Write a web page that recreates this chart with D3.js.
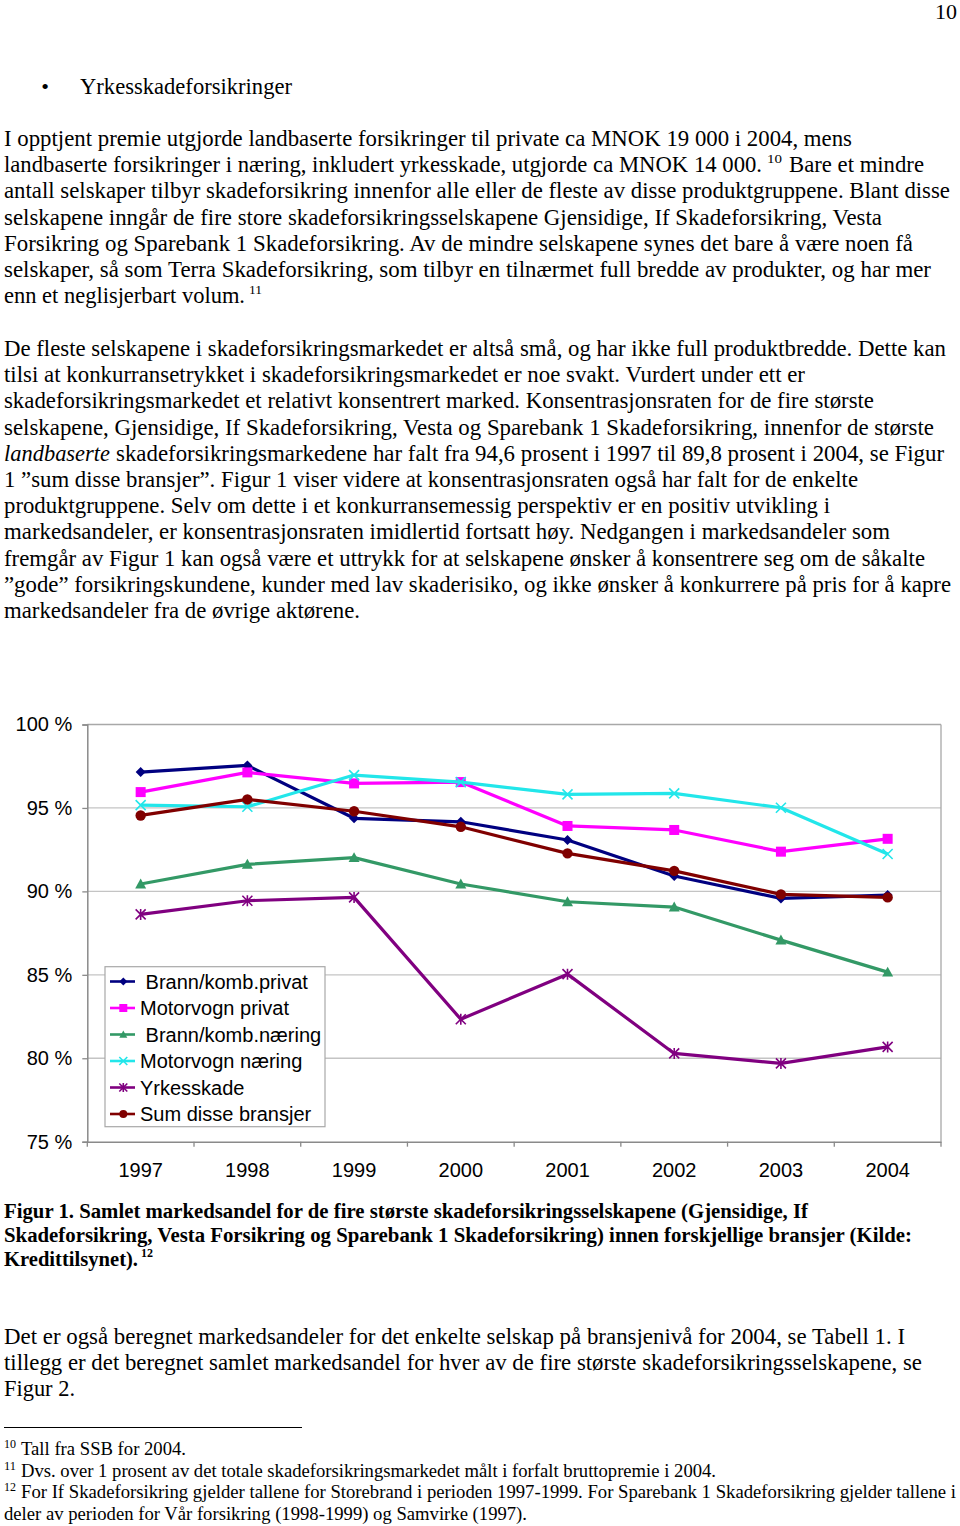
<!DOCTYPE html>
<html>
<head>
<meta charset="utf-8">
<script src="https://cdn.jsdelivr.net/npm/d3@7/dist/d3.min.js"></script>
<style>
  html, body { margin: 0; padding: 0; background: #fff; }
  svg { display: block; }
</style>
</head>
<body>
<script>
// ---------------- chart data ----------------
const years = ["1997", "1998", "1999", "2000", "2001", "2002", "2003", "2004"];
const seriesNames = ["Brann/komb.privat", "Motorvogn privat", "Brann/komb.næring", "Motorvogn næring", "Yrkesskade", "Sum disse bransjer"];
const brannPrivat  = [97.15, 97.55, 94.38, 94.17, 93.08, 90.92, 89.58, 89.78];
const motorPrivat  = [95.95, 97.13, 96.47, 96.55, 93.92, 93.68, 92.38, 93.15];
const brannNaering = [90.44, 91.62, 92.02, 90.44, 89.38, 89.06, 87.08, 85.16];
const motorNaering = [95.17, 95.07, 96.97, 96.55, 95.81, 95.87, 95.01, 92.24];
const yrkesskade   = [88.62, 89.44, 89.64, 82.34, 85.04, 80.29, 79.69, 80.68];
const sumBransjer  = [94.55, 95.51, 94.80, 93.87, 92.28, 91.23, 89.82, 89.64];
const yTicks = [75, 80, 85, 90, 95, 100];
const yTickLabels = ["75 %", "80 %", "85 %", "90 %", "95 %", "100 %"];

// ---------------- page text ----------------
const pageNumber = "10";
const bulletText = "Yrkesskadeforsikringer";
const para1 = [
  "I opptjent premie utgjorde landbaserte forsikringer til private ca MNOK 19 000 i 2004, mens",
  "landbaserte forsikringer i næring, inkludert yrkesskade, utgjorde ca MNOK 14 000.",
  "Bare et mindre",
  "antall selskaper tilbyr skadeforsikring innenfor alle eller de fleste av disse produktgruppene. Blant disse",
  "selskapene inngår de fire store skadeforsikringsselskapene Gjensidige, If Skadeforsikring, Vesta",
  "Forsikring og Sparebank 1 Skadeforsikring. Av de mindre selskapene synes det bare å være noen få",
  "selskaper, så som Terra Skadeforsikring, som tilbyr en tilnærmet full bredde av produkter, og har mer",
  "enn et neglisjerbart volum."
];
const para2 = [
  "De fleste selskapene i skadeforsikringsmarkedet er altså små, og har ikke full produktbredde. Dette kan",
  "tilsi at konkurransetrykket i skadeforsikringsmarkedet er noe svakt. Vurdert under ett er",
  "skadeforsikringsmarkedet et relativt konsentrert marked. Konsentrasjonsraten for de fire største",
  "selskapene, Gjensidige, If Skadeforsikring, Vesta og Sparebank 1 Skadeforsikring, innenfor de største",
  "landbaserte",
  "skadeforsikringsmarkedene har falt fra 94,6 prosent i 1997 til 89,8 prosent i 2004, se Figur",
  "1 ”sum disse bransjer”. Figur 1 viser videre at konsentrasjonsraten også har falt for de enkelte",
  "produktgruppene. Selv om dette i et konkurransemessig perspektiv er en positiv utvikling i",
  "markedsandeler, er konsentrasjonsraten imidlertid fortsatt høy. Nedgangen i markedsandeler som",
  "fremgår av Figur 1 kan også være et uttrykk for at selskapene ønsker å konsentrere seg om de såkalte",
  "”gode” forsikringskundene, kunder med lav skaderisiko, og ikke ønsker å konkurrere på pris for å kapre",
  "markedsandeler fra de øvrige aktørene."
];
const caption = [
  "Figur 1. Samlet markedsandel for de fire største skadeforsikringsselskapene (Gjensidige, If",
  "Skadeforsikring, Vesta Forsikring og Sparebank 1 Skadeforsikring) innen forskjellige bransjer (Kilde:",
  "Kredittilsynet)."
];
const para3 = [
  "Det er også beregnet markedsandeler for det enkelte selskap på bransjenivå for 2004, se Tabell 1. I",
  "tillegg er det beregnet samlet markedsandel for hver av de fire største skadeforsikringsselskapene, se",
  "Figur 2."
];
const footnoteNums = ["10", "11", "12"];
const footnotes = [
  "Tall fra SSB for 2004.",
  "Dvs. over 1 prosent av det totale skadeforsikringsmarkedet målt i forfalt bruttopremie i 2004.",
  "For If Skadeforsikring gjelder tallene for Storebrand i perioden 1997-1999. For Sparebank 1 Skadeforsikring gjelder tallene i",
  "deler av perioden for Vår forsikring (1998-1999) og Samvirke (1997)."
];

// ---------------- rendering ----------------
const W = 960, H = 1526;
const svg = d3.select("body").append("svg").attr("width", W).attr("height", H);
const serif = "'Liberation Serif','Times New Roman',Times,serif";
const sans = "'Liberation Sans',Arial,Helvetica,sans-serif";

function txt(x, y, s, o = {}) {
  const t = svg.append("text").attr("x", x).attr("y", y).text(s)
    .attr("font-family", o.family || serif)
    .attr("font-size", o.size || 22.3)
    .attr("fill", "#000");
  if (o.weight) t.attr("font-weight", o.weight);
  if (o.italic) t.attr("font-style", "italic");
  if (o.anchor) t.attr("text-anchor", o.anchor);
  if (o.end) t.attr("textLength", o.end - x).attr("lengthAdjust", "spacingAndGlyphs");
  return t;
}

// page number + bullet
txt(957, 19, pageNumber, {anchor: "end", size: 22});
txt(45, 94, "•", {anchor: "middle", size: 22});
txt(80, 94, bulletText, {end: 292});

// paragraph 1
const lh = 26.2;
const p1y = 146;
txt(4, p1y, para1[0], {end: 852});
txt(4, p1y + lh, para1[1], {end: 762});
txt(767, p1y + lh - 9, footnoteNums[0], {size: 13, end: 782});
txt(789, p1y + lh, para1[2], {end: 924});
txt(4, p1y + 2 * lh, para1[3], {end: 950});
txt(4, p1y + 3 * lh, para1[4], {end: 882});
txt(4, p1y + 4 * lh, para1[5], {end: 913});
txt(4, p1y + 5 * lh, para1[6], {end: 931});
txt(4, p1y + 6 * lh, para1[7], {end: 245});
txt(249, p1y + 6 * lh - 9, footnoteNums[1], {size: 13, end: 262});

// paragraph 2
const p2y = 356;
const p2ends = [946, 805, 874, 934];
for (let i = 0; i < 4; i++) txt(4, p2y + i * lh, para2[i], {end: p2ends[i]});
txt(4, p2y + 4 * lh, para2[4], {italic: true, end: 110});
txt(116, p2y + 4 * lh, para2[5], {end: 944});
const p2ends2 = [858, 830, 890, 925, 951, 360];
for (let i = 0; i < 6; i++) txt(4, p2y + (5 + i) * lh, para2[6 + i], {end: p2ends2[i]});

// caption
const cy = 1218, clh = 24;
txt(4, cy, caption[0], {weight: "bold", size: 20.5, end: 808});
txt(4, cy + clh, caption[1], {weight: "bold", size: 20.5, end: 912});
txt(4, cy + 2 * clh, caption[2], {weight: "bold", size: 20.5, end: 138});
txt(141, cy + 2 * clh - 9, footnoteNums[2], {weight: "bold", size: 12, end: 153});

// paragraph 3
const p3y = 1344;
txt(4, p3y, para3[0], {end: 905});
txt(4, p3y + lh, para3[1], {end: 922});
txt(4, p3y + 2 * lh, para3[2], {end: 75});

// footnote rule + footnotes
svg.append("line").attr("x1", 4).attr("x2", 302).attr("y1", 1427.5).attr("y2", 1427.5)
  .attr("stroke", "#000").attr("stroke-width", 1);
const fy = [1455, 1476.5, 1498, 1519.5];
const fends = [186, 716, 956];
for (let i = 0; i < 3; i++) {
  txt(4, fy[i] - 7, footnoteNums[i], {size: 12, end: 16});
  txt(21, fy[i], footnotes[i], {size: 18, end: fends[i]});
}
txt(4, fy[3], footnotes[3], {size: 18, end: 527});

// ---------------- chart ----------------
const plot = {left: 87.3, right: 941, top: 724.5, bottom: 1141.7};
const x = d3.scaleBand().domain(years).range([plot.left, plot.right]).padding(0);
const cx = d => x(d) + x.bandwidth() / 2;
const y = d3.scaleLinear().domain([75, 100]).range([plot.bottom, plot.top]);

const g = svg.append("g");
// gridlines
g.selectAll("line.grid").data(yTicks.filter(v => v > 75)).join("line")
  .attr("class", "grid")
  .attr("x1", plot.left).attr("x2", plot.right)
  .attr("y1", d => y(d)).attr("y2", d => y(d))
  .attr("stroke", d => d === 100 ? "#a8a8a8" : "#c4c4c4").attr("stroke-width", 1.3);
// right border
g.append("line").attr("x1", plot.right).attr("x2", plot.right)
  .attr("y1", plot.top).attr("y2", plot.bottom).attr("stroke", "#a8a8a8").attr("stroke-width", 1.3);

// y axis
const yAxis = g.append("g").attr("transform", `translate(${plot.left},0)`)
  .call(d3.axisLeft(y).tickValues(yTicks).tickFormat((d, i) => yTickLabels[i]).tickSize(5).tickPadding(10));
yAxis.select(".domain").attr("stroke", "#8a8a8a").attr("stroke-width", 1.5);
yAxis.selectAll(".tick line").attr("stroke", "#8a8a8a").attr("stroke-width", 1.3);
yAxis.selectAll(".tick text").attr("font-family", sans).attr("font-size", 20).attr("fill", "#000");

// x axis
const xAxis = g.append("g").attr("transform", `translate(0,${plot.bottom})`)
  .call(d3.axisBottom(x).tickSize(0).tickPadding(21));
xAxis.select(".domain").attr("stroke", "#8a8a8a").attr("stroke-width", 1.5);
xAxis.selectAll(".tick text").attr("font-family", sans).attr("font-size", 20).attr("fill", "#000");
// category boundary tick marks
const bounds = years.map(d => x(d)).concat([plot.right]);
g.selectAll("line.xtick").data(bounds).join("line").attr("class", "xtick")
  .attr("x1", d => d).attr("x2", d => d).attr("y1", plot.bottom).attr("y2", plot.bottom + 5)
  .attr("stroke", "#8a8a8a").attr("stroke-width", 1.3);

// series
const series = [
  {name: seriesNames[0], values: brannPrivat, color: "#000080", marker: "diamond"},
  {name: seriesNames[1], values: motorPrivat, color: "#ff00ff", marker: "square"},
  {name: seriesNames[2], values: brannNaering, color: "#339966", marker: "triangle"},
  {name: seriesNames[3], values: motorNaering, color: "#22e6ea", marker: "x"},
  {name: seriesNames[4], values: yrkesskade, color: "#800080", marker: "star"},
  {name: seriesNames[5], values: sumBransjer, color: "#800000", marker: "circle"}
];

function drawMarker(sel, type, color, s) {
  // s = half size
  if (type === "diamond") {
    sel.append("path").attr("d", `M0,${-s}L${s},0L0,${s}L${-s},0Z`).attr("fill", color);
  } else if (type === "square") {
    sel.append("rect").attr("x", -s).attr("y", -s).attr("width", 2 * s).attr("height", 2 * s).attr("fill", color);
  } else if (type === "triangle") {
    sel.append("path").attr("d", `M0,${-s}L${s},${s * 0.8}L${-s},${s * 0.8}Z`).attr("fill", color);
  } else if (type === "circle") {
    sel.append("circle").attr("r", s).attr("fill", color);
  } else if (type === "x") {
    sel.append("path").attr("d", `M${-s},${-s}L${s},${s}M${-s},${s}L${s},${-s}`)
      .attr("stroke", color).attr("stroke-width", 1.6).attr("fill", "none");
  } else if (type === "star") {
    sel.append("path").attr("d", `M${-s},${-s}L${s},${s}M${-s},${s}L${s},${-s}M0,${-s * 1.1}L0,${s * 1.1}`)
      .attr("stroke", color).attr("stroke-width", 1.6).attr("fill", "none");
  }
}

const line = d3.line().x((d, i) => cx(years[i])).y(d => y(d));
series.forEach(s => {
  const sg = g.append("g");
  sg.append("path").attr("d", line(s.values)).attr("fill", "none")
    .attr("stroke", s.color).attr("stroke-width", 3.2).attr("stroke-linejoin", "round");
  s.values.forEach((v, i) => {
    const m = sg.append("g").attr("transform", `translate(${cx(years[i])},${y(v)})`);
    const half = {diamond: 5, square: 5, triangle: 5.5, circle: 5.2, x: 5, star: 5}[s.marker];
    drawMarker(m, s.marker, s.color, half);
  });
});

// legend
const lg = svg.append("g");
lg.append("rect").attr("x", 105).attr("y", 966.7).attr("width", 220).attr("height", 160)
  .attr("fill", "#fff").attr("stroke", "#a8a8a8").attr("stroke-width", 1.2);
const legY = d3.scalePoint().domain(seriesNames).range([981.5, 1114]);
const legendLabels = [" Brann/komb.privat", "Motorvogn privat", " Brann/komb.næring", "Motorvogn næring", "Yrkesskade", "Sum disse bransjer"];
series.forEach((s, i) => {
  const yy = legY(s.name);
  lg.append("line").attr("x1", 110).attr("x2", 135).attr("y1", yy).attr("y2", yy)
    .attr("stroke", s.color).attr("stroke-width", 2.6);
  const m = lg.append("g").attr("transform", `translate(123.3,${yy})`);
  drawMarker(m, s.marker, s.color, 4);
  lg.append("text").attr("x", 140).attr("y", yy).attr("dy", "0.36em")
    .attr("font-family", sans).attr("font-size", 20).attr("fill", "#000")
    .attr("xml:space", "preserve").style("white-space", "pre")
    .text(legendLabels[i]);
});
</script>
</body>
</html>
